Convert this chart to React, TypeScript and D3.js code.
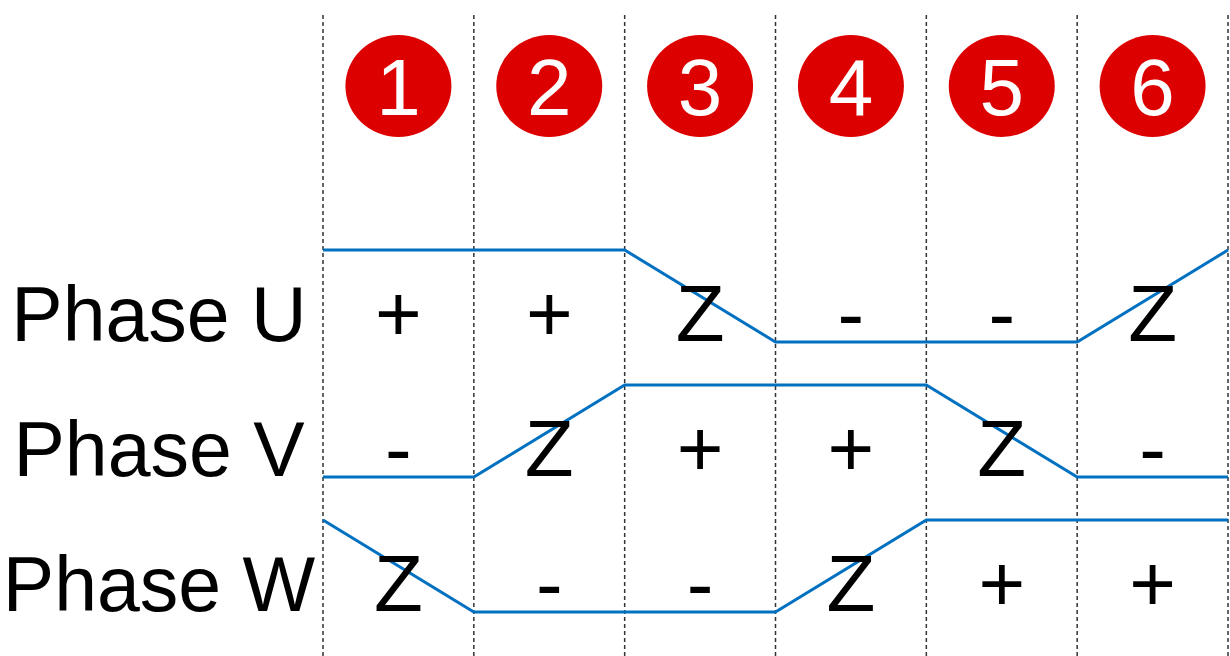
import { useEffect } from 'react';
import * as d3 from 'd3';

// step numbers shown in red circles
const steps = [1, 2, 3, 4, 5, 6];
const phases = ['U', 'V', 'W'];
// state of each phase in each step
const statesU = ['+', '+', 'Z', '-', '-', 'Z'];
const statesV = ['-', 'Z', '+', '+', 'Z', '-'];
const statesW = ['Z', '-', '-', 'Z', '+', '+'];
// signal level at each step boundary (1 = high, 0 = low)
const levelsU = [1, 1, 1, 0, 0, 0, 1];
const levelsV = [0, 0, 1, 1, 1, 0, 0];
const levelsW = [1, 0, 0, 0, 1, 1, 1];

const W = 1230;
const H = 656;
const FONT = '"Liberation Sans", Arial, sans-serif';

const App = () => {
    useEffect(() => {
        document.body.style.margin = '0';
    }, []);

    const rows = [
        { name: 'U', states: statesU, levels: levelsU },
        { name: 'V', states: statesV, levels: levelsV },
        { name: 'W', states: statesW, levels: levelsW },
    ];

    /* ---- scales ---- */
    const xBound = d3.scaleLinear().domain([0, steps.length]).range([323, 1228]);
    const xCenter = (i: number) => (xBound(i) + xBound(i + 1)) / 2;
    const yRow = d3.scalePoint<string>().domain(phases).range([342, 612]);
    const yLevel = d3.scaleLinear().domain([0, 1]).range([0, -92]);

    const line = d3.line<number>()
        .x((_, i) => xBound(i))
        .y(d => d);

    return (
        <svg width={W} height={H} style={{ display: 'block', background: '#fff' }}>
            {/* dashed step boundaries */}
            {d3.range(steps.length + 1).map(i => (
                <line
                    key={'b' + i}
                    x1={xBound(i)}
                    x2={xBound(i)}
                    y1={15}
                    y2={H}
                    stroke="#333"
                    strokeWidth={1.5}
                    strokeDasharray="4,3"
                />
            ))}

            {/* step circles */}
            {steps.map((s, i) => (
                <g key={'s' + s} transform={`translate(${xCenter(i)},86)`}>
                    <ellipse rx={53} ry={51} fill="#DD0000" />
                    <text
                        y={29}
                        textAnchor="middle"
                        fill="#fff"
                        fontFamily={FONT}
                        fontSize={80}
                    >
                        {s}
                    </text>
                </g>
            ))}

            {rows.map(r => {
                const base = yRow(r.name) as number;
                return (
                    <g key={r.name}>
                        <text
                            x={159}
                            y={base - 1}
                            textAnchor="middle"
                            fontFamily={FONT}
                            fontSize={77}
                            fill="#000"
                        >
                            {'Phase ' + r.name}
                        </text>
                        <path
                            d={line(r.levels.map(l => base + yLevel(l))) || ''}
                            fill="none"
                            stroke="#0070C0"
                            strokeWidth={3}
                        />
                        {r.states.map((st, i) => (
                            <text
                                key={i}
                                x={xCenter(i)}
                                y={base - 1}
                                textAnchor="middle"
                                fontFamily={FONT}
                                fontSize={80}
                                fill="#000"
                            >
                                {st}
                            </text>
                        ))}
                    </g>
                );
            })}
        </svg>
    );
};

export default App;
